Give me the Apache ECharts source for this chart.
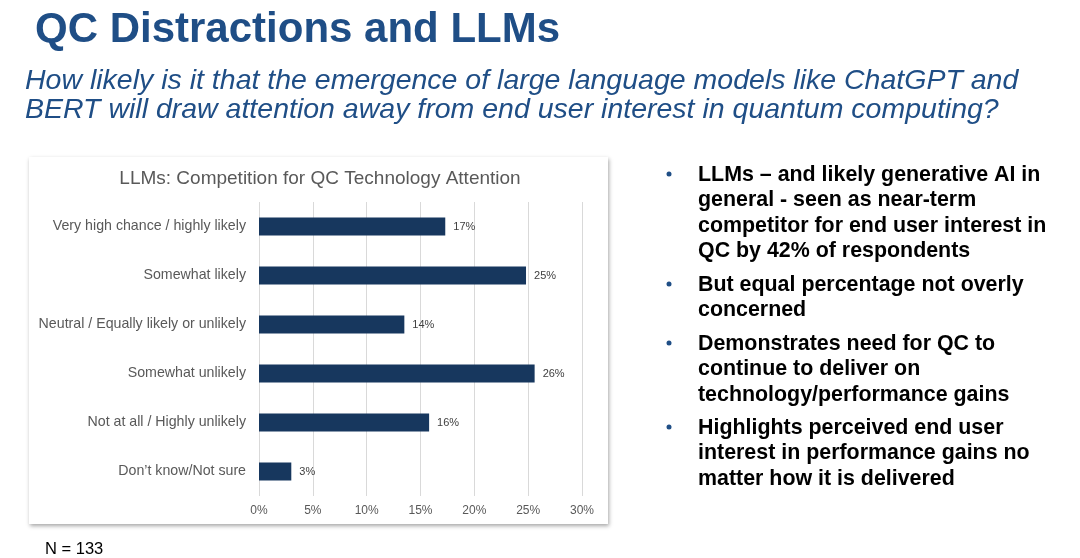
<!DOCTYPE html>
<html><head><meta charset="utf-8">
<script src="https://cdn.jsdelivr.net/npm/echarts@6/dist/echarts.min.js"></script>
<style>html,body{margin:0;padding:0;background:#fff}#c{width:1080px;height:558px}</style>
</head><body><div id="c"></div>
<script>
const categories = ["Very high chance / highly likely","Somewhat likely","Neutral / Equally likely or unlikely","Somewhat unlikely","Not at all / Highly unlikely","Don’t know/Not sure"];
const values = [17.3, 24.8, 13.5, 25.6, 15.8, 3.0];
const tickLabels = ["0%","5%","10%","15%","20%","25%","30%"];
const bullets = [
  ["LLMs – and likely generative AI in","general - seen as near-term","competitor for end user interest in","QC by 42% of respondents"],
  ["But equal percentage not overly","concerned"],
  ["Demonstrates need for QC to","continue to deliver on","technology/performance gains"],
  ["Highlights perceived end user","interest in performance gains no","matter how it is delivered"]
];
const bulletTops = [174, 284, 343, 427];
const F = '"Liberation Sans", Arial, sans-serif';
const chart = echarts.init(document.getElementById('c'));
const graphics = [
  {type:'rect', shape:{x:29,y:157,width:579,height:367}, style:{fill:'#fff', shadowBlur:4, shadowColor:'rgba(0,0,0,0.35)', shadowOffsetX:1, shadowOffsetY:2}, z:-10},
  {type:'text', left:35, top:9, style:{text:'QC Distractions and LLMs', font:'bold 42px '+F, fill:'#1f4e86'}},
  {type:'text', left:25, top:67, style:{text:'How likely is it that the emergence of large language models like ChatGPT and\nBERT will draw attention away from end user interest in quantum computing?', font:'italic 28.5px '+F, fill:'#1f4e86', lineHeight:29}},
  {type:'text', left:45, top:541, style:{text:'N = 133', font:'16.5px '+F, fill:'#000'}}
];
bullets.forEach((b,i)=>{
  graphics.push({type:'circle', shape:{cx:669, cy:bulletTops[i], r:2.5}, style:{fill:'#1f4e86'}});
  b.forEach((line,j)=>{
    graphics.push({type:'text', x:698, y:bulletTops[i]+1+j*25.4, style:{text:line, font:'bold 21.4px '+F, fill:'#000', verticalAlign:'middle'}});
  });
});
chart.setOption({
  animation:false,
  title:{text:'LLMs: Competition for QC Technology Attention', left:315, top:164, textAlign:'center', textStyle:{fontFamily:F, fontSize:19, fontWeight:'normal', color:'#595959'}},
  grid:{left:259, right:498, top:202, bottom:62},
  xAxis:{type:'value', min:0, max:30, interval:5,
    axisLabel:{formatter:(v)=>tickLabels[v/5], fontFamily:F, fontSize:12, color:'#595959', margin:9},
    splitLine:{lineStyle:{color:'#d9d9d9'}}, axisLine:{show:false}, axisTick:{show:false}},
  yAxis:{type:'category', data:categories, inverse:true,
    axisLabel:{fontFamily:F, fontSize:14.2, color:'#595959', margin:13},
    axisLine:{show:false}, axisTick:{show:false}},
  series:[{type:'bar', data:values, barWidth:18, itemStyle:{color:'#17375e'},
    label:{show:true, position:'right', distance:8, formatter:(p)=>Math.round(p.value)+'%', fontFamily:F, fontSize:11, color:'#404040'}}],
  graphic:graphics
});
</script></body></html>
